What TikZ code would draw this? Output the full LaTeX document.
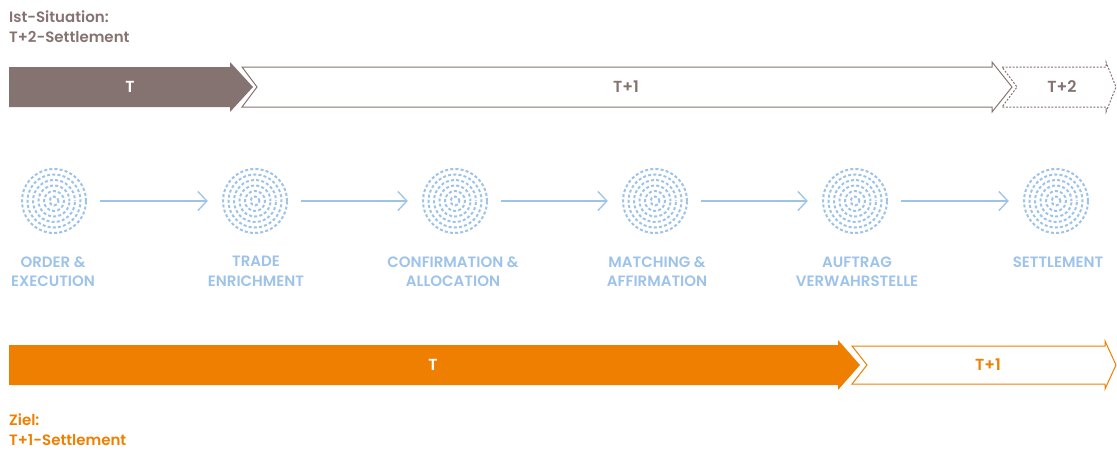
\documentclass[tikz,border=0pt]{standalone}
\usepackage{fontspec}
\setmainfont{Poppins}[BoldFont=* SemiBold]
\usetikzlibrary{arrows.meta}
\definecolor{ggray}{HTML}{857371}
\definecolor{gorange}{HTML}{EE7F00}
\definecolor{gblue}{HTML}{9DC3EA}
\tikzset{
  heading/.style={anchor=west,align=left,font=\bfseries\fontsize{15}{20}\selectfont,inner sep=0pt},
  barlabel/.style={font=\bfseries\fontsize{16}{18}\selectfont,inner sep=0pt},
  steplabel/.style={align=center,text=gblue,font=\bfseries\fontsize{15}{19.5}\selectfont,inner sep=0pt},
  flow/.style={draw=gblue,line width=1.6pt,-{Straight Barb[length=9pt,width=19pt,line width=1.3pt]},shorten <=12pt,shorten >=13pt},
  ring/.style={draw=gblue,line width=2pt,dash pattern=on 3pt off 2.2pt},
  dot/.style={circle,minimum size=68pt,inner sep=0pt}
}
\newcommand{\dotdisc}[1]{%
  \foreach \r/\ph in {32/0,26.5/1.3,21/2.4,15.5/0.7,10/1.9,4.5/0.2}{
    \draw[ring,dash phase=\ph pt] (#1) circle[radius=\r pt];
  }}
\begin{document}
\begin{tikzpicture}[x=1pt,y=-1pt]
\useasboundingbox (0,0) rectangle (1117,450);
% headings
\node[heading,text=ggray] (h1) at (9,27) {Ist-Situation:\\T+2-Settlement};
\node[heading,text=gorange] (h2) at (9,429.5) {Ziel:\\T+1-Settlement};
% top timeline
\fill[ggray] (9,67) -- (230,67) -- (230,62) -- (253,87) -- (230,112) -- (230,107) -- (9,107) -- cycle;
\node[barlabel,text=white] (t0) at (130,87) {T};
\draw[ggray,line width=1pt] (242,67) -- (992,67) -- (992,62) -- (1012,87) -- (992,112) -- (992,107) -- (242,107) -- (257,87) -- cycle;
\node[barlabel,text=ggray] (t1) at (626,87) {T+1};
\draw[ggray,line width=1pt,dash pattern=on 2pt off 1.5pt] (1002,67) -- (1106,67) -- (1106,62) -- (1116,87) -- (1106,112) -- (1106,107) -- (1002,107) -- (1017,87) -- cycle;
\node[barlabel,text=ggray] (t2) at (1062,87) {T+2};
% process steps
\foreach \n/\x in {a/54,b/255,c/455,d/655,e/855,f/1056}{
  \node[dot] (\n) at (\x,201) {};
  \dotdisc{\n}
}
\draw[flow] (a) -- (b);
\draw[flow] (b) -- (c);
\draw[flow] (c) -- (d);
\draw[flow] (d) -- (e);
\draw[flow] (e) -- (f);
\node[steplabel] (la) at (53,271.5) {ORDER \&\\EXECUTION};
\node[steplabel] (lb) at (256,271.5) {TRADE\\ENRICHMENT};
\node[steplabel] (lc) at (453,271.5) {CONFIRMATION \&\\ALLOCATION};
\node[steplabel] (ld) at (657,271.5) {MATCHING \&\\AFFIRMATION};
\node[steplabel] (le) at (857,271.5) {AUFTRAG\\VERWAHRSTELLE};
\node[steplabel] (lf) at (1058,262) {SETTLEMENT};
% bottom timeline
\fill[gorange] (9,345) -- (838,345) -- (838,340) -- (860,365) -- (838,390) -- (838,385) -- (9,385) -- cycle;
\node[barlabel,text=white] (b0) at (433,365) {T};
\draw[gorange,line width=1pt] (852,346) -- (1105,346) -- (1105,341) -- (1116,365) -- (1105,389) -- (1105,384) -- (852,384) -- (867,365) -- cycle;
\node[barlabel,text=gorange] (b1) at (988,365) {T+1};
\end{tikzpicture}
\end{document}
